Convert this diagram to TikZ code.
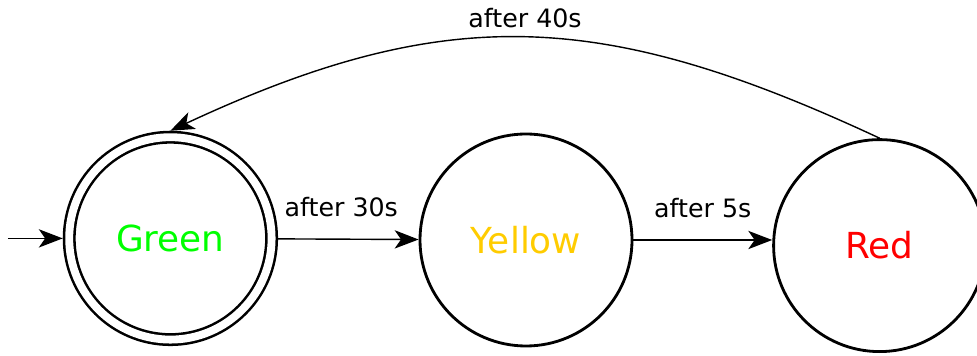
\documentclass[tikz,border=0pt]{standalone}
\usepackage{fontspec}
\setmainfont{DejaVu Sans}
\usetikzlibrary{arrows.meta}
\definecolor{sgreen}{RGB}{0,255,0}
\definecolor{syellow}{RGB}{255,204,0}
\definecolor{sred}{RGB}{255,0,0}
\begin{document}
\begin{tikzpicture}[
  >={Stealth[length=17pt,width=13pt,inset=4.5pt]},
  lamp/.style={circle,draw,line width=2pt,minimum size=5.3cm,inner sep=0pt,font=\fontsize{25.5}{30}\selectfont},
  accept/.style={lamp,double,line width=1.8pt,double distance=5.6pt,minimum size=5.06cm,outer sep=4.6pt},
  trans/.style={->,line width=1pt},
  lbl/.style={font=\fontsize{18}{21}\selectfont}]
    \useasboundingbox (0,0) rectangle (24.425,8.9);
    \node[accept,text=sgreen](green) at (4.26,2.94){Green};%初期状態
    \node[lamp,text=syellow](yellow) at (13.15,2.90){Yellow};
    \node[lamp,text=sred](red) at (21.99,2.76){Red};
    \coordinate (start) at (0.2,2.94);
    \draw[trans](start)--(green.west);%開始
    \draw[trans](green)--(yellow)node[lbl,pos=0.45,above=0.42cm]{after 30s};
    \draw[trans](yellow.east)--(yellow.east -| red.west)node[lbl,midway,above=0.42cm]{after 5s};
    \draw[trans](red.north)to[out=155,in=25,looseness=1.1]node[lbl,midway,above=0.12cm]{after 40s}(green.north);%戻り
\end{tikzpicture}
\end{document}
